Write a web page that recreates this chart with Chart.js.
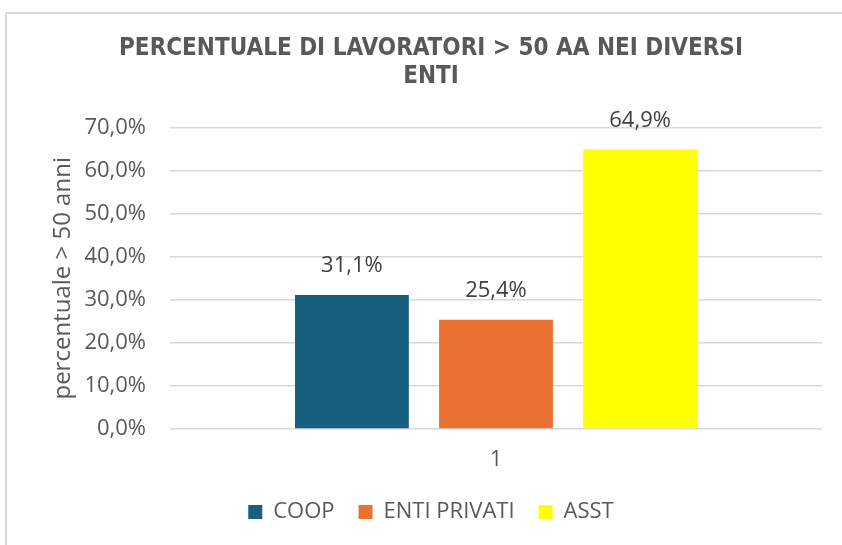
<!DOCTYPE html>
<html>
<head>
<meta charset="utf-8">
<script src="https://cdn.jsdelivr.net/npm/chart.js@4"></script>
<style>
  html, body { margin: 0; padding: 0; background: #fff; overflow: hidden; }
  #wrap { position: relative; width: 842px; height: 545px; }
  #frame { position: absolute; left: 5px; top: 12px; width: 900px; height: 600px; border: 2px solid #d9d9d9; }
  canvas { position: absolute; left: 0; top: 0; }
</style>
</head>
<body>
<div id="wrap">
  <div id="frame"></div>
  <canvas id="ageChart" width="842" height="545"></canvas>
</div>
<script>
// data
const categories = ['1'];
const seriesNames = ['COOP', 'ENTI PRIVATI', 'ASST'];
const seriesValues = [[31.1], [25.4], [64.9]];
const seriesColors = ['#175e7f', '#e97132', '#ffff00'];
const yTicks = [0, 10, 20, 30, 40, 50, 60, 70];

function formatPct(v) {
  return v.toFixed(1).replace('.', ',') + '%';
}

// draws the value above each bar
const valueLabels = {
  id: 'valueLabels',
  afterDatasetsDraw(chart) {
    const ctx = chart.ctx;
    ctx.save();
    ctx.font = '22px "Open Sans"';
    ctx.fillStyle = '#404040';
    ctx.textAlign = 'center';
    ctx.textBaseline = 'middle';
    chart.data.datasets.forEach((ds, i) => {
      chart.getDatasetMeta(i).data.forEach((bar, j) => {
        ctx.fillText(formatPct(ds.data[j]), bar.x, bar.y - 29);
      });
    });
    ctx.restore();
  },
};

const ctx = document.getElementById('ageChart').getContext('2d');

const config = {
  type: 'bar',
  data: {
    labels: categories,
    datasets: seriesNames.map((name, i) => ({
      label: name,
      data: seriesValues[i],
      backgroundColor: seriesColors[i],
      borderWidth: 0,
      barPercentage: 0.79,
      categoryPercentage: 0.663,
    })),
  },
  options: {
    responsive: false,
    animation: false,
    layout: {
      padding: { left: 30, right: 10, top: 34, bottom: 12 },
    },
    scales: {
      x: {
        grid: { display: false },
        border: { display: false },
        afterFit: (scale) => {
          scale.height = 48;
        },
        ticks: {
          color: '#595959',
          font: { family: 'Open Sans', size: 22 },
          padding: 10,
        },
      },
      y: {
        min: 0,
        max: 70,
        afterFit: (scale) => {
          scale.width = 140;
        },
        afterBuildTicks: (scale) => {
          scale.ticks = yTicks.map((v) => ({ value: v }));
        },
        ticks: {
          color: '#595959',
          font: { family: 'Open Sans', size: 22 },
          padding: 24,
          callback: (v) => formatPct(v),
        },
        grid: {
          color: '#d9d9d9',
          lineWidth: 1.5,
          drawTicks: false,
        },
        border: { display: false },
        title: {
          display: true,
          text: 'percentuale > 50 anni',
          color: '#595959',
          font: { family: 'Open Sans', size: 24 },
          padding: { top: 19, bottom: 0 },
        },
      },
      // empty right axis, only keeps the plot away from the right edge
      y2: {
        position: 'right',
        grid: { display: false },
        border: { display: false },
        ticks: { display: false },
        afterFit: (scale) => {
          scale.width = 10;
        },
      },
    },
    plugins: {
      title: {
        display: true,
        text: ['PERCENTUALE DI LAVORATORI > 50 AA NEI DIVERSI', 'ENTI'],
        color: '#595959',
        font: { family: '"DejaVu Sans Condensed", Roboto', size: 24, weight: 'bold', lineHeight: 1.2 },
        padding: { top: 0, bottom: 36 },
      },
      legend: {
        position: 'bottom',
        labels: {
          color: '#595959',
          font: { family: 'Open Sans', size: 22 },
          boxWidth: 14,
          boxHeight: 14,
          padding: 24,
        },
      },
      tooltip: { enabled: false },
    },
  },
  plugins: [valueLabels],
};

new Chart(ctx, config);
</script>
</body>
</html>
